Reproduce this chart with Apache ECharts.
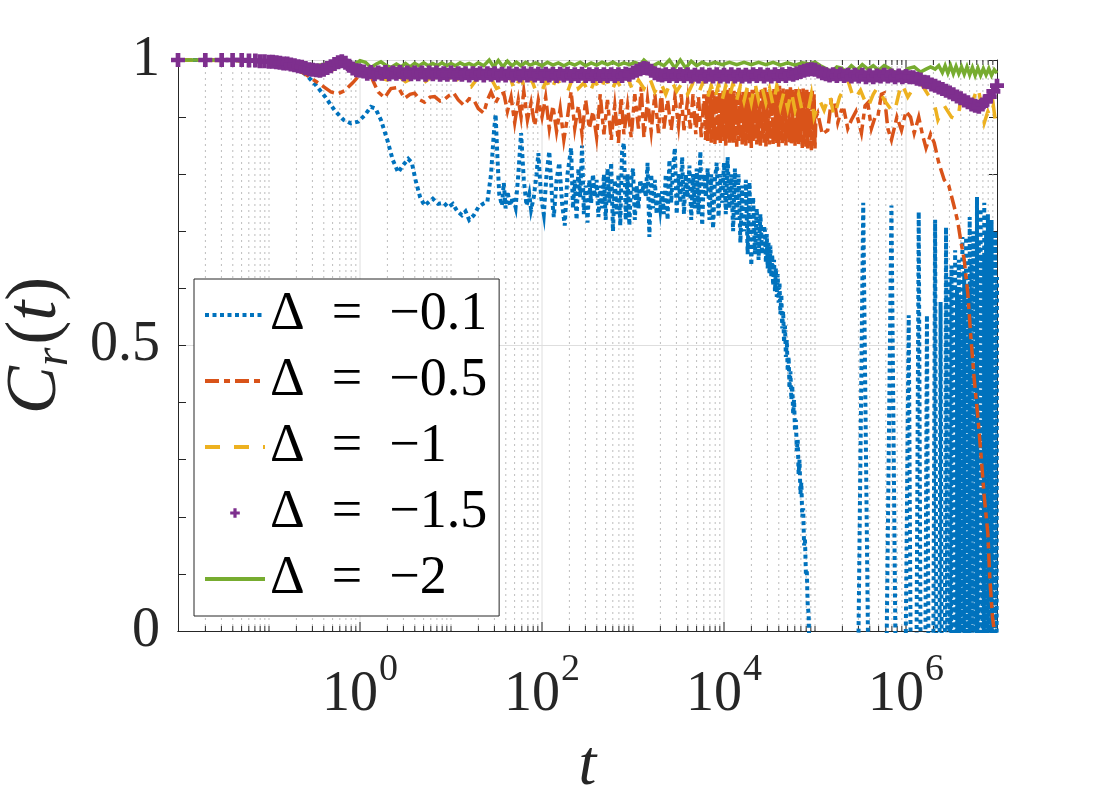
<!DOCTYPE html>
<html>
<head>
<meta charset="utf-8">
<title>C_r(t)</title>
<script src="https://cdn.jsdelivr.net/npm/echarts@6/dist/echarts.min.js"></script>
<style>
  html, body { margin: 0; padding: 0; background: #fff; }
  #chart { width: 1100px; height: 800px; }
</style>
</head>
<body>
<div id="chart"></div>
<script>
// 坐标轴刻度
const xLabelExps = [0, 2, 4, 6];
const yTicks = [0, 0.5, 1];
const names = ['Δ\u2002=\u2002−0.1', 'Δ\u2002=\u2002−0.5', 'Δ\u2002=\u2002−1', 'Δ\u2002=\u2002−1.5', 'Δ\u2002=\u2002−2'];

// 每条曲线的点: [log10(t), C_r(t)]
const blue = [
  [-2, 1], [-1.5, 1], [-1.2, 0.999], [-1, 0.997], [-0.8, 0.993], [-0.68, 0.985], [-0.58, 0.972],
  [-0.48, 0.955], [-0.38, 0.935], [-0.28, 0.912], [-0.18, 0.895], [-0.1, 0.889], [-0.02, 0.892],
  [0.05, 0.903], [0.12, 0.918], [0.17, 0.915], [0.23, 0.895], [0.3, 0.86], [0.36, 0.825],
  [0.42, 0.803], [0.47, 0.815], [0.53, 0.827], [0.57, 0.82], [0.61, 0.79], [0.66, 0.76],
  [0.71, 0.745], [0.76, 0.752], [0.8, 0.757], [0.86, 0.748], [0.92, 0.75], [0.97, 0.742],
  [1.02, 0.748], [1.07, 0.735], [1.12, 0.728], [1.16, 0.735], [1.2, 0.72], [1.25, 0.728],
  [1.3, 0.742], [1.35, 0.748], [1.4, 0.752], [1.44, 0.8], [1.47, 0.87], [1.49, 0.905],
  [1.51, 0.83], [1.53, 0.765], [1.56, 0.745], [1.58, 0.785], [1.6, 0.74], [1.62, 0.77],
  [1.65, 0.745], [1.68, 0.76], [1.71, 0.742], [1.74, 0.8], [1.77, 0.872], [1.8, 0.79],
  [1.83, 0.745], [1.86, 0.765], [1.88, 0.738], [1.91, 0.76], [1.94, 0.8], [1.96, 0.837],
  [1.99, 0.76], [2.02, 0.73], [2.05, 0.8], [2.08, 0.84], [2.11, 0.76], [2.13, 0.725],
  [2.16, 0.79], [2.19, 0.82], [2.22, 0.75], [2.25, 0.71], [2.28, 0.8],
  [2.3, 0.8], [2.32, 0.846], [2.34, 0.74], [2.36, 0.79], [2.38, 0.72], [2.4, 0.81],
  [2.42, 0.76], [2.44, 0.85], [2.46, 0.73], [2.48, 0.78], [2.5, 0.715], [2.52, 0.79],
  [2.54, 0.75], [2.56, 0.8], [2.58, 0.76], [2.6, 0.79], [2.62, 0.725], [2.64, 0.78],
  [2.66, 0.74], [2.68, 0.8], [2.7, 0.72], [2.72, 0.81], [2.74, 0.75], [2.76, 0.82],
  [2.78, 0.7], [2.8, 0.79], [2.82, 0.73], [2.84, 0.8], [2.86, 0.71], [2.88, 0.84],
  [2.9, 0.855], [2.92, 0.72], [2.94, 0.8], [2.96, 0.71], [2.98, 0.79], [3.0, 0.81],
  [3.02, 0.72], [3.04, 0.78], [3.06, 0.74], [3.08, 0.79], [3.1, 0.767], [3.12, 0.785],
  [3.14, 0.76], [3.16, 0.82], [3.18, 0.69], [3.2, 0.8], [3.22, 0.74], [3.24, 0.79],
  [3.26, 0.73], [3.28, 0.77], [3.3, 0.74], [3.32, 0.77], [3.34, 0.73], [3.36, 0.8],
  [3.38, 0.72], [3.4, 0.825], [3.42, 0.75], [3.44, 0.81], [3.46, 0.846], [3.48, 0.73],
  [3.5, 0.8], [3.52, 0.75], [3.54, 0.83], [3.56, 0.73], [3.58, 0.8], [3.6, 0.76],
  [3.62, 0.815], [3.64, 0.72], [3.66, 0.8], [3.68, 0.74], [3.7, 0.81], [3.72, 0.73],
  [3.74, 0.84], [3.76, 0.71], [3.78, 0.8], [3.8, 0.76], [3.82, 0.81], [3.84, 0.72],
  [3.86, 0.8], [3.88, 0.705], [3.9, 0.79], [3.92, 0.82], [3.94, 0.725], [3.96, 0.8],
  [3.98, 0.75], [4.0, 0.82], [4.02, 0.73], [4.04, 0.83], [4.06, 0.74], [4.08, 0.8],
  [4.1, 0.7], [4.12, 0.81], [4.14, 0.72], [4.16, 0.8], [4.18, 0.68], [4.2, 0.78],
  [4.22, 0.7], [4.24, 0.79], [4.26, 0.66], [4.28, 0.786], [4.3, 0.64], [4.32, 0.76],
  [4.34, 0.66], [4.36, 0.74], [4.38, 0.65], [4.4, 0.73], [4.42, 0.66], [4.44, 0.71],
  [4.45, 0.7], [4.46, 0.645], [4.47, 0.695], [4.48, 0.635], [4.49, 0.68], [4.5, 0.625],
  [4.51, 0.675], [4.52, 0.62], [4.53, 0.66], [4.54, 0.605], [4.55, 0.65], [4.56, 0.595],
  [4.57, 0.635], [4.58, 0.585], [4.59, 0.625], [4.6, 0.575], [4.61, 0.61], [4.62, 0.555],
  [4.63, 0.59], [4.64, 0.53], [4.65, 0.56], [4.66, 0.505], [4.67, 0.535], [4.68, 0.48],
  [4.69, 0.51], [4.7, 0.455], [4.71, 0.48], [4.72, 0.425], [4.73, 0.455], [4.74, 0.405],
  [4.75, 0.43], [4.76, 0.38], [4.77, 0.405], [4.78, 0.35], [4.79, 0.37], [4.8, 0.315],
  [4.81, 0.335], [4.82, 0.275], [4.83, 0.3], [4.84, 0.24], [4.85, 0.26], [4.86, 0.2],
  [4.87, 0.215], [4.88, 0.15], [4.89, 0.16], [4.9, 0.1], [4.91, 0.105], [4.92, 0.045],
  [4.93, 0.03], [4.94, -0.05], [4.96, -0.4], [5.0, -1],
  [5.41, -1], [5.53, 0.75], [5.65, -1], [5.72, -1], [5.84, 0.745], [5.94, -1],
  [6.03, 0.553], [6.085, -1], [6.14, 0.734], [6.185, -1], [6.23, 0.553], [6.275, -1],
  [6.32, 0.72], [6.35, -1], [6.38, 0.576], [6.41, -1], [6.44, 0.707], [6.47, -1],
  [6.48, 0.62], [6.49, -1], [6.5, 0.64], [6.51, -1], [6.52, 0.55], [6.53, -1],
  [6.54, 0.667], [6.55, -1], [6.56, 0.6], [6.57, -1], [6.58, 0.65], [6.59, -1],
  [6.6, 0.58], [6.61, -1], [6.62, 0.69], [6.63, -1], [6.64, 0.63], [6.65, -1],
  [6.66, 0.69], [6.67, -1], [6.68, 0.6], [6.69, -1], [6.7, 0.725], [6.71, -1],
  [6.72, 0.65], [6.73, -1], [6.74, 0.7], [6.75, -1], [6.76, 0.62], [6.77, -1],
  [6.78, 0.76], [6.79, -1], [6.8, 0.68], [6.81, -1], [6.82, 0.74], [6.83, -1],
  [6.84, 0.66], [6.85, -1], [6.86, 0.75], [6.87, -1], [6.88, 0.7], [6.89, -1],
  [6.9, 0.73], [6.91, -1], [6.92, 0.68], [6.93, -1], [6.94, 0.72], [6.95, -1],
  [6.96, 0.66], [6.97, -1], [6.98, 0.7], [6.99, -1], [7.0, 0.62]
];

const orange = [
  [-2, 1], [-1.5, 1], [-1, 0.997], [-0.8, 0.99], [-0.62, 0.977], [-0.46, 0.96], [-0.32, 0.944],
  [-0.24, 0.941], [-0.17, 0.946], [-0.08, 0.96], [0.02, 0.978], [0.07, 0.98], [0.13, 0.968],
  [0.2, 0.944], [0.27, 0.934], [0.34, 0.95], [0.42, 0.952], [0.49, 0.933], [0.55, 0.94],
  [0.6, 0.942], [0.66, 0.93], [0.71, 0.926], [0.77, 0.935], [0.82, 0.936], [0.88, 0.928],
  [0.92, 0.93], [0.98, 0.938], [1.03, 0.942], [1.08, 0.93], [1.14, 0.921], [1.2, 0.932],
  [1.25, 0.93], [1.3, 0.915], [1.36, 0.907], [1.4, 0.93], [1.44, 0.944], [1.49, 0.925],
  [1.54, 0.94], [1.58, 0.942], [1.62, 0.91], [1.66, 0.935], [1.7, 0.89], [1.74, 0.93],
  [1.77, 0.9], [1.8, 0.945], [1.84, 0.895], [1.88, 0.925], [1.92, 0.885], [1.96, 0.93],
  [2.0, 0.9], [2.04, 0.935], [2.08, 0.88], [2.12, 0.92], [2.16, 0.875], [2.2, 0.915],
  [2.24, 0.86], [2.28, 0.9], [2.32, 0.945], [2.36, 0.88], [2.4, 0.92], [2.44, 0.87],
  [2.48, 0.93], [2.52, 0.88], [2.56, 0.91], [2.6, 0.865], [2.64, 0.94], [2.68, 0.87],
  [2.72, 0.93], [2.76, 0.86], [2.8, 0.92], [2.84, 0.855], [2.87, 0.935], [2.9, 0.87],
  [2.94, 0.92], [2.98, 0.865], [3.02, 0.94], [3.06, 0.88], [3.09, 0.953], [3.12, 0.865],
  [3.16, 0.93], [3.2, 0.875], [3.24, 0.94], [3.28, 0.872], [3.31, 0.947], [3.34, 0.88],
  [3.38, 0.93], [3.42, 0.877], [3.46, 0.935], [3.5, 0.885], [3.53, 0.94], [3.56, 0.877],
  [3.6, 0.93], [3.63, 0.88], [3.66, 0.94], [3.69, 0.87], [3.72, 0.935], [3.75, 0.865],
  [3.78, 0.94], [3.8, 0.86], [3.81, 0.94], [3.82, 0.858], [3.83, 0.946], [3.84, 0.87],
  [3.85, 0.94], [3.86, 0.855], [3.87, 0.947], [3.88, 0.862], [3.89, 0.938], [3.9, 0.85],
  [3.91, 0.944], [3.92, 0.868], [3.93, 0.95], [3.94, 0.856], [3.95, 0.942], [3.96, 0.852],
  [3.97, 0.936], [3.98, 0.865], [3.99, 0.946], [4.0, 0.858], [4.01, 0.94], [4.02, 0.85],
  [4.03, 0.948], [4.04, 0.862], [4.05, 0.942], [4.06, 0.855], [4.07, 0.952], [4.08, 0.866],
  [4.09, 0.94], [4.1, 0.852], [4.11, 0.946], [4.12, 0.86], [4.13, 0.938], [4.14, 0.848],
  [4.15, 0.944], [4.16, 0.858], [4.17, 0.95], [4.18, 0.864], [4.19, 0.94], [4.2, 0.852],
  [4.21, 0.946], [4.22, 0.856], [4.23, 0.942], [4.24, 0.85], [4.25, 0.95], [4.26, 0.86],
  [4.27, 0.944], [4.28, 0.854], [4.29, 0.938], [4.3, 0.846], [4.31, 0.948], [4.32, 0.858],
  [4.33, 0.942], [4.34, 0.862], [4.35, 0.95], [4.36, 0.852], [4.37, 0.944], [4.38, 0.856],
  [4.39, 0.94], [4.4, 0.85], [4.41, 0.948], [4.42, 0.86], [4.43, 0.942], [4.44, 0.855],
  [4.45, 0.952], [4.46, 0.848], [4.47, 0.944], [4.48, 0.858], [4.49, 0.94], [4.5, 0.852],
  [4.51, 0.95], [4.52, 0.862], [4.53, 0.944], [4.54, 0.85], [4.55, 0.953], [4.56, 0.858],
  [4.57, 0.942], [4.58, 0.854], [4.59, 0.948], [4.6, 0.848], [4.61, 0.955], [4.62, 0.86],
  [4.63, 0.946], [4.64, 0.852], [4.65, 0.95], [4.66, 0.858], [4.67, 0.944], [4.68, 0.85],
  [4.69, 0.952], [4.7, 0.862], [4.71, 0.946], [4.72, 0.855], [4.73, 0.956], [4.74, 0.85],
  [4.75, 0.948], [4.76, 0.858], [4.77, 0.944], [4.78, 0.848], [4.79, 0.952], [4.8, 0.856],
  [4.81, 0.946], [4.82, 0.85], [4.83, 0.95], [4.84, 0.86], [4.85, 0.944], [4.86, 0.846],
  [4.87, 0.95], [4.88, 0.855], [4.89, 0.942], [4.9, 0.848], [4.91, 0.948], [4.92, 0.845],
  [4.93, 0.944], [4.94, 0.852], [4.95, 0.94], [4.96, 0.842], [4.97, 0.946], [4.98, 0.85],
  [4.99, 0.94], [5.0, 0.845], [5.01, 0.9], [5.03, 0.907], [5.08, 0.87], [5.14, 0.877],
  [5.18, 0.93], [5.21, 0.93], [5.25, 0.89], [5.29, 0.912], [5.32, 0.912], [5.36, 0.88],
  [5.4, 0.895], [5.45, 0.91], [5.51, 0.872], [5.55, 0.92], [5.58, 0.925], [5.62, 0.88],
  [5.66, 0.9], [5.69, 0.9], [5.73, 0.94], [5.76, 0.942], [5.8, 0.88], [5.84, 0.86],
  [5.9, 0.9], [5.95, 0.877], [6.0, 0.91], [6.05, 0.9], [6.09, 0.872], [6.14, 0.9],
  [6.18, 0.87], [6.22, 0.846], [6.27, 0.87], [6.31, 0.855], [6.36, 0.82], [6.42, 0.79],
  [6.47, 0.78], [6.53, 0.743], [6.57, 0.716], [6.6, 0.685], [6.64, 0.65], [6.68, 0.59],
  [6.71, 0.52], [6.75, 0.44], [6.79, 0.375], [6.82, 0.317], [6.86, 0.235], [6.9, 0.17],
  [6.92, 0.095], [6.95, 0.025], [6.97, 0]
];

const yellow = [
  [-2, 1], [-1, 0.998], [-0.7, 0.99], [-0.55, 0.975], [-0.45, 0.972], [-0.35, 0.98],
  [-0.24, 0.986], [-0.1, 0.99], [0.09, 0.977], [0.2, 0.97], [0.3, 0.965], [0.4, 0.975],
  [0.5, 0.962], [0.6, 0.97], [0.7, 0.96], [0.8, 0.972], [0.92, 0.96], [1.03, 0.974],
  [1.12, 0.958], [1.22, 0.953], [1.3, 0.97], [1.38, 0.96], [1.44, 0.968], [1.5, 0.95],
  [1.58, 0.956], [1.64, 0.975], [1.7, 0.945], [1.76, 0.97], [1.82, 0.948], [1.88, 0.968],
  [1.94, 0.942], [1.99, 0.942], [2.05, 0.965], [2.1, 0.945], [2.16, 0.97], [2.22, 0.95],
  [2.28, 0.944], [2.35, 0.974], [2.4, 0.95], [2.46, 0.96], [2.52, 0.94], [2.58, 0.965],
  [2.64, 0.945], [2.7, 0.97], [2.76, 0.944], [2.82, 0.965], [2.88, 0.948], [2.94, 0.97],
  [3.0, 0.945], [3.06, 0.965], [3.12, 0.95], [3.18, 0.97], [3.24, 0.944], [3.3, 0.962],
  [3.36, 0.94], [3.42, 0.965], [3.48, 0.945], [3.54, 0.96], [3.6, 0.94], [3.66, 0.96],
  [3.72, 0.942], [3.78, 0.965], [3.82, 0.935], [3.86, 0.955], [3.9, 0.932], [3.94, 0.958],
  [3.98, 0.93], [4.02, 0.955], [4.06, 0.935], [4.1, 0.96], [4.14, 0.93], [4.18, 0.955],
  [4.22, 0.928], [4.26, 0.955], [4.3, 0.925], [4.34, 0.96], [4.38, 0.93], [4.42, 0.952],
  [4.46, 0.925], [4.5, 0.95], [4.54, 0.92], [4.58, 0.955], [4.62, 0.918], [4.66, 0.945],
  [4.7, 0.915], [4.74, 0.945], [4.78, 0.912], [4.82, 0.94], [4.86, 0.91], [4.92, 0.907],
  [4.96, 0.94], [4.99, 0.9], [5.05, 0.93], [5.1, 0.912], [5.16, 0.94], [5.21, 0.9],
  [5.27, 0.935], [5.32, 0.95], [5.36, 0.965], [5.43, 0.93], [5.5, 0.947], [5.58, 0.916],
  [5.64, 0.94], [5.69, 0.953], [5.76, 0.93], [5.84, 0.912], [5.87, 0.907], [5.92, 0.94],
  [5.95, 0.96], [6.02, 0.935], [6.09, 0.953], [6.16, 0.96], [6.24, 0.94], [6.31, 0.925],
  [6.35, 0.895], [6.42, 0.92], [6.5, 0.9], [6.57, 0.895], [6.6, 0.93], [6.66, 0.91],
  [6.71, 0.918], [6.79, 0.953], [6.83, 0.92], [6.86, 0.89], [6.9, 0.91], [6.93, 0.9],
  [6.96, 0.92], [6.99, 0.883]
];

const purple = [
  [-2, 1], [-1.7, 1], [-1.52, 1], [-1.4, 1], [-1.3, 1], [-1.22, 0.999], [-1.15, 0.999],
  [-1.1, 0.998], [-1.05, 0.998], [-1, 0.997], [-0.96, 0.997], [-0.92, 0.996], [-0.88, 0.995],
  [-0.84, 0.994], [-0.8, 0.994], [-0.76, 0.992], [-0.72, 0.991], [-0.68, 0.989], [-0.64, 0.988],
  [-0.6, 0.986], [-0.56, 0.984], [-0.52, 0.983], [-0.48, 0.982], [-0.44, 0.981], [-0.4, 0.983],
  [-0.36, 0.986], [-0.32, 0.989], [-0.28, 0.993], [-0.24, 0.996], [-0.2, 0.998], [-0.16, 0.995],
  [-0.12, 0.99], [-0.08, 0.985], [-0.04, 0.982], [0, 0.981],
  [0.04, 0.98], [0.08, 0.976], [0.12, 0.979], [0.16, 0.975], [0.2, 0.978], [0.24, 0.976],
  [0.28, 0.979], [0.32, 0.975], [0.36, 0.978], [0.4, 0.976], [0.44, 0.979], [0.48, 0.975],
  [0.52, 0.978], [0.56, 0.975], [0.6, 0.978], [0.64, 0.975], [0.68, 0.978], [0.72, 0.974],
  [0.76, 0.978], [0.8, 0.975], [0.84, 0.978], [0.88, 0.974], [0.92, 0.977], [0.96, 0.974],
  [1.0, 0.978], [1.04, 0.974], [1.08, 0.977], [1.12, 0.974], [1.16, 0.977], [1.2, 0.973],
  [1.24, 0.977], [1.28, 0.974], [1.32, 0.977], [1.36, 0.973], [1.4, 0.977], [1.44, 0.974],
  [1.48, 0.977], [1.52, 0.973], [1.56, 0.976], [1.6, 0.973], [1.64, 0.977], [1.68, 0.973],
  [1.72, 0.976], [1.76, 0.973], [1.8, 0.977], [1.84, 0.973], [1.88, 0.976], [1.92, 0.973],
  [1.96, 0.976], [2.0, 0.972], [2.04, 0.976], [2.08, 0.973], [2.12, 0.976], [2.16, 0.972],
  [2.2, 0.976], [2.24, 0.973], [2.28, 0.976], [2.32, 0.972], [2.36, 0.975], [2.4, 0.972],
  [2.44, 0.976], [2.48, 0.972], [2.52, 0.975], [2.56, 0.972], [2.6, 0.975], [2.64, 0.972],
  [2.68, 0.975], [2.72, 0.972], [2.76, 0.975], [2.8, 0.972], [2.84, 0.975], [2.88, 0.972],
  [2.92, 0.976], [2.96, 0.974], [3.0, 0.978], [3.04, 0.981], [3.08, 0.984], [3.12, 0.986],
  [3.16, 0.985], [3.2, 0.981], [3.24, 0.977], [3.28, 0.974], [3.32, 0.973], [3.36, 0.975],
  [3.4, 0.972], [3.44, 0.975], [3.48, 0.972], [3.52, 0.975], [3.56, 0.972], [3.6, 0.975],
  [3.64, 0.971], [3.68, 0.974], [3.72, 0.971], [3.76, 0.975], [3.8, 0.971], [3.84, 0.974],
  [3.88, 0.971], [3.92, 0.975], [3.96, 0.971], [4.0, 0.974], [4.04, 0.971], [4.08, 0.975],
  [4.12, 0.971], [4.16, 0.974], [4.2, 0.971], [4.24, 0.974], [4.28, 0.971], [4.32, 0.975],
  [4.36, 0.972], [4.4, 0.975], [4.44, 0.971], [4.48, 0.974], [4.52, 0.971], [4.56, 0.975],
  [4.6, 0.972], [4.64, 0.975], [4.68, 0.972], [4.72, 0.976], [4.76, 0.974], [4.8, 0.977],
  [4.84, 0.979], [4.88, 0.981], [4.92, 0.983], [4.96, 0.984], [5.0, 0.983], [5.04, 0.98],
  [5.08, 0.977], [5.12, 0.975], [5.16, 0.973], [5.2, 0.975], [5.24, 0.972], [5.28, 0.975],
  [5.32, 0.972], [5.36, 0.974], [5.4, 0.971], [5.44, 0.974], [5.48, 0.971], [5.52, 0.974],
  [5.56, 0.97], [5.6, 0.973], [5.64, 0.97], [5.68, 0.973], [5.72, 0.971], [5.76, 0.974],
  [5.8, 0.971], [5.84, 0.973], [5.88, 0.97], [5.92, 0.973], [5.96, 0.97], [6.0, 0.972],
  [6.04, 0.97], [6.08, 0.97], [6.12, 0.967], [6.16, 0.966], [6.2, 0.962], [6.24, 0.961],
  [6.28, 0.957], [6.32, 0.955], [6.36, 0.952], [6.4, 0.949], [6.44, 0.946], [6.48, 0.943],
  [6.52, 0.94], [6.56, 0.936], [6.6, 0.933], [6.64, 0.929], [6.68, 0.926], [6.72, 0.922],
  [6.76, 0.92], [6.8, 0.918], [6.84, 0.922], [6.88, 0.928], [6.92, 0.936], [6.96, 0.945],
  [7.0, 0.955]
];

const green = [
  [-2, 1], [-1.5, 1], [-1, 0.998], [-0.8, 0.995], [-0.6, 0.991], [-0.5, 0.99], [-0.4, 0.992],
  [-0.3, 0.996], [-0.21, 1.0], [-0.14, 0.997], [-0.08, 0.99], [0.0, 0.999], [0.06, 0.996],
  [0.12, 0.987], [0.18, 0.993], [0.23, 0.997], [0.29, 0.99], [0.34, 0.987], [0.4, 0.993],
  [0.45, 0.988], [0.5, 0.994], [0.55, 0.988], [0.6, 0.994], [0.65, 0.99], [0.7, 0.995],
  [0.75, 0.99], [0.8, 0.994], [0.85, 0.99], [0.9, 0.995], [0.95, 0.99], [1.0, 0.994],
  [1.05, 0.99], [1.1, 0.995], [1.15, 0.991], [1.2, 0.994], [1.25, 0.99], [1.3, 0.995],
  [1.36, 0.99], [1.42, 1.0], [1.47, 0.988], [1.52, 0.999], [1.57, 0.988], [1.62, 0.998],
  [1.67, 0.99], [1.72, 0.996], [1.77, 0.99], [1.82, 0.996], [1.87, 0.991], [1.93, 0.995],
  [2.0, 0.99], [2.06, 0.996], [2.12, 0.991], [2.18, 0.995], [2.24, 0.99], [2.3, 0.995],
  [2.36, 0.991], [2.42, 0.996], [2.48, 0.99], [2.54, 0.995], [2.6, 0.991], [2.66, 0.996],
  [2.72, 0.992], [2.78, 0.996], [2.84, 0.991], [2.9, 0.995], [2.96, 0.992], [3.02, 0.996],
  [3.08, 0.992], [3.12, 1.0], [3.2, 0.988], [3.28, 0.995], [3.34, 0.99], [3.4, 1.0],
  [3.46, 0.986], [3.52, 1.0], [3.58, 0.986], [3.64, 0.998], [3.7, 0.99], [3.76, 0.996],
  [3.82, 0.992], [3.9, 0.996], [3.98, 0.992], [4.06, 0.996], [4.14, 0.992], [4.22, 0.996],
  [4.3, 0.992], [4.38, 0.996], [4.46, 0.992], [4.54, 0.996], [4.62, 0.991], [4.7, 0.995],
  [4.78, 0.991], [4.86, 0.995], [4.94, 0.993], [5.0, 0.996], [5.06, 0.99], [5.12, 0.985],
  [5.18, 0.979], [5.24, 0.988], [5.29, 0.986], [5.34, 0.98], [5.4, 0.99], [5.46, 0.982],
  [5.52, 0.992], [5.58, 0.984], [5.64, 0.99], [5.7, 0.982], [5.76, 0.99], [5.82, 0.985],
  [5.88, 0.978], [5.95, 0.974], [6.02, 0.985], [6.09, 0.988], [6.16, 0.979], [6.22, 0.984],
  [6.27, 0.988], [6.32, 0.984], [6.36, 0.99], [6.4, 0.978], [6.43, 0.99], [6.46, 0.977],
  [6.49, 0.99], [6.52, 0.976], [6.55, 0.989], [6.58, 0.976], [6.61, 0.988], [6.64, 0.975],
  [6.67, 0.988], [6.7, 0.974], [6.73, 0.987], [6.76, 0.973], [6.79, 0.986], [6.82, 0.973],
  [6.85, 0.985], [6.88, 0.974], [6.91, 0.985], [6.94, 0.973], [6.97, 0.983], [7.0, 0.977]
];

const colors = ['#0072BD', '#D95319', '#EDB120', '#7E2F8E', '#77AC30'];
const serif = 'Liberation Serif';
const ink = '#262626';

// 网格线位置：偶数次幂为主网格线，其余为点线
const gridLines = [];
for (let k = -2; k <= 6; k++) {
  for (let m = 1; m <= 9; m++) {
    const v = m * Math.pow(10, k);
    if (v <= 0.01 || v >= 1e7) continue;
    const major = m === 1 && xLabelExps.includes(k) ? 1 : 0;
    gridLines.push([v, major]);
  }
}

const toPoints = arr => arr.map(([e, c]) => [Math.pow(10, e), c]);

function renderGrid(params, api) {
  const v = api.value(0);
  const major = api.value(1) === 1;
  const [x, yBot] = api.coord([v, 0]);
  const yTop = api.coord([v, 1])[1];
  const tick = major ? 9 : 5;
  return {
    type: 'group',
    children: [
      { type: 'line', shape: { x1: x, y1: yTop, x2: x, y2: yBot },
        style: { stroke: major ? '#dedede' : '#bdbdbd', lineWidth: 1, lineDash: major ? null : [2, 4] } },
      { type: 'line', shape: { x1: x, y1: yBot, x2: x, y2: yBot - tick }, style: { stroke: ink, lineWidth: 1 } },
      { type: 'line', shape: { x1: x, y1: yTop, x2: x, y2: yTop + tick }, style: { stroke: ink, lineWidth: 1 } }
    ]
  };
}

const lineSeries = (name, data, color, dash, width, clip) => ({
  name,
  type: 'line',
  data: toPoints(data),
  showSymbol: false,
  symbol: 'none',
  clip,
  z: 3,
  lineStyle: { color, width, type: dash, cap: 'butt', join: 'miter' },
  itemStyle: { color }
});

const chart = echarts.init(document.getElementById('chart'));

chart.setOption({
  animation: false,
  backgroundColor: '#fff',
  grid: { left: 178, right: 103, top: 60, bottom: 169, outerBoundsMode: 'none', containLabel: false },
  legend: {
    data: names.map((n, i) => ({
      name: n,
      itemStyle: { opacity: i === 3 ? 1 : 0 },
      lineStyle: { width: i === 3 ? 0 : 4 }
    })),
    orient: 'vertical',
    left: 194,
    top: 279,
    padding: [7, 12, 8, 9],
    itemGap: 8,
    itemWidth: 60,
    itemHeight: 12,
    backgroundColor: '#fff',
    borderColor: ink,
    borderWidth: 1,
    borderRadius: 0,
    selectedMode: false,
    textStyle: { fontFamily: serif, fontSize: 54, color: '#000', lineHeight: 58 }
  },
  xAxis: [
    {
      type: 'log',
      logBase: 10,
      min: 0.01,
      max: 1e7,
      position: 'bottom',
      axisLine: { lineStyle: { color: ink, width: 1 } },
      axisTick: { show: false },
      splitLine: { show: false },
      axisLabel: {
        margin: 20,
        formatter: v => {
          const e = Math.round(Math.log10(v));
          return xLabelExps.includes(e) ? '{b|10}{e|' + e + '}' : '';
        },
        rich: {
          b: { fontFamily: serif, fontSize: 56, color: ink, verticalAlign: 'top', padding: [16, 0, 0, 0] },
          e: { fontFamily: serif, fontSize: 38, color: ink, verticalAlign: 'top', padding: [0, 0, 0, 1] }
        }
      },
      name: 't',
      nameLocation: 'middle',
      nameGap: 104,
      nameTextStyle: { fontFamily: serif, fontStyle: 'italic', fontSize: 64, color: ink }
    },
    {
      type: 'log',
      logBase: 10,
      min: 0.01,
      max: 1e7,
      position: 'top',
      axisLine: { lineStyle: { color: ink, width: 1 } },
      axisTick: { show: false },
      axisLabel: { show: false },
      splitLine: { show: false }
    }
  ],
  yAxis: [
    {
      type: 'value',
      min: 0,
      max: 1,
      interval: 0.5,
      axisLine: { show: true, lineStyle: { color: ink, width: 1 } },
      axisTick: { inside: true, length: 8, lineStyle: { color: ink } },
      minorTick: { show: true, splitNumber: 5, length: 8, lineStyle: { color: ink } },
      splitLine: { show: true, lineStyle: { color: '#dedede', width: 1 } },
      axisLabel: {
        margin: 18,
        fontFamily: serif,
        fontSize: 56,
        color: ink,
        formatter: v => (yTicks.includes(v) ? String(v) : '')
      },
      name: '{i|C}{s|r}{n|(}{i|t}{n|)}',
      nameLocation: 'middle',
      nameRotate: 90,
      nameGap: 100,
      nameTextStyle: {
        rich: {
          i: { fontFamily: serif, fontStyle: 'italic', fontSize: 72, color: ink, verticalAlign: 'top' },
          s: { fontFamily: serif, fontStyle: 'italic', fontSize: 48, color: ink, verticalAlign: 'top', padding: [30, 3, 0, 0] },
          n: { fontFamily: serif, fontSize: 72, color: ink, verticalAlign: 'top' }
        }
      }
    },
    {
      type: 'value',
      min: 0,
      max: 1,
      interval: 0.5,
      position: 'right',
      axisLine: { show: true, lineStyle: { color: ink, width: 1 } },
      axisTick: { inside: true, length: 8, lineStyle: { color: ink } },
      minorTick: { show: true, splitNumber: 5, length: 8, lineStyle: { color: ink } },
      axisLabel: { show: false },
      splitLine: { show: false }
    }
  ],
  series: [
    {
      name: 'grid',
      type: 'custom',
      renderItem: renderGrid,
      data: gridLines,
      encode: { x: 0, y: 1 },
      silent: true,
      z: 1
    },
    lineSeries(names[0], blue, colors[0], [4, 3.5], 4, true),
    lineSeries(names[1], orange, colors[1], [14, 5, 6, 5], 3.5, false),
    lineSeries(names[2], yellow, colors[2], [15, 14], 3.5, false),
    {
      name: names[3],
      type: 'line',
      data: toPoints(purple),
      clip: false,
      z: 3,
      showSymbol: true,
      showAllSymbol: true,
      symbol: 'path://M3,0H6V3H9V6H6V9H3V6H0V3H3Z',
      symbolSize: 14,
      lineStyle: { width: 0, color: colors[3] },
      itemStyle: { color: colors[3] }
    },
    lineSeries(names[4], green, colors[4], 'solid', 3.5, false)
  ]
});
</script>
</body>
</html>
